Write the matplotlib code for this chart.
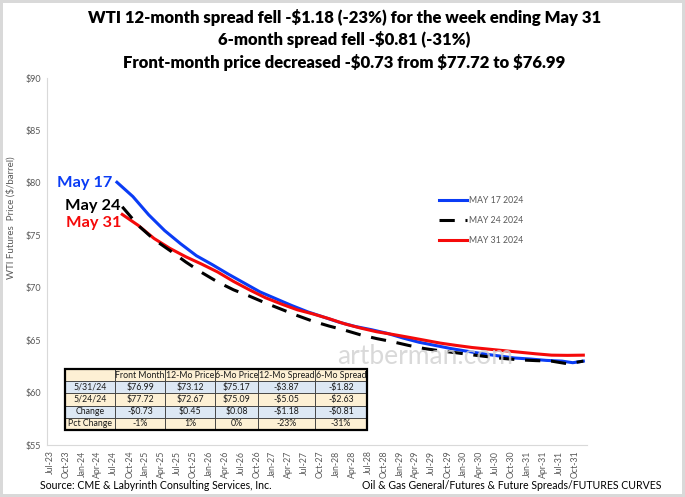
import matplotlib.pyplot as plt
from matplotlib.patches import Rectangle

plt.rcParams['font.family'] = ['Lato', 'DejaVu Sans']

# month index: Jul-23 = 0
tick_labels = ['Jul-23', 'Oct-23', 'Jan-24', 'Apr-24', 'Jul-24', 'Oct-24', 'Jan-25', 'Apr-25',
               'Jul-25', 'Oct-25', 'Jan-26', 'Apr-26', 'Jul-26', 'Oct-26', 'Jan-27', 'Apr-27',
               'Jul-27', 'Oct-27', 'Jan-28', 'Apr-28', 'Jul-28', 'Oct-28', 'Jan-29', 'Apr-29',
               'Jul-29', 'Oct-29', 'Jan-30', 'Apr-30', 'Jul-30', 'Oct-30', 'Jan-31', 'Apr-31',
               'Jul-31', 'Oct-31']

may17_months = [11, 14, 17, 20, 23, 26, 29, 32, 35, 38, 41, 44, 47, 50, 53, 56, 59, 62, 65, 68,
                71, 74, 77, 80, 83, 86, 89, 92, 95, 97, 99]
may17_price = [80.06, 78.70, 76.95, 75.45, 74.20, 73.05, 72.20, 71.30, 70.45, 69.60, 68.95,
               68.30, 67.70, 67.20, 66.70, 66.30, 66.00, 65.65, 65.20, 64.80, 64.50, 64.20,
               63.95, 63.70, 63.50, 63.30, 63.20, 63.07, 63.00, 62.85, 63.00]

may_months = [12, 15, 18, 21, 24, 27, 30, 33, 36, 39, 42, 45, 48, 51, 54, 57, 60, 63, 66, 69,
              72, 75, 78, 81, 84, 87, 90, 93, 96, 99]
may24_price = [77.72, 75.95, 74.60, 73.55, 72.45, 71.45, 70.55, 69.80, 69.20, 68.55, 67.95,
               67.35, 66.80, 66.35, 65.95, 65.50, 65.15, 64.85, 64.50, 64.20, 63.98, 63.80,
               63.60, 63.42, 63.25, 63.12, 63.05, 63.00, 62.75, 63.00]
may31_price = [76.99, 75.95, 74.70, 73.75, 72.95, 72.25, 71.50, 70.60, 69.80, 69.05, 68.45,
               67.90, 67.50, 67.05, 66.55, 66.15, 65.80, 65.55, 65.28, 65.00, 64.72, 64.50,
               64.30, 64.15, 64.00, 63.85, 63.70, 63.57, 63.55, 63.57]

table_cols = ['', 'Front Month', '12-Mo Price', '6-Mo Price', '12-Mo Spread', '6-Mo Spread']
table_rows = [
    ['5/31/24', '$76.99', '$73.12', '$75.17', '-$3.87', '-$1.82'],
    ['5/24/24', '$77.72', '$72.67', '$75.09', '-$5.05', '-$2.63'],
    ['Change', '-$0.73', '$0.45', '$0.08', '-$1.18', '-$0.81'],
    ['Pct Change', '-1%', '1%', '0%', '-23%', '-31%'],
]

fig = plt.figure(figsize=(6.85, 4.97), dpi=100)
fig.patch.set_edgecolor('#d9d9d9')
fig.patch.set_linewidth(3)
ax = fig.add_axes([0.0686, 0.1046, 0.7884, 0.7384])

# Excel places the labels ~1.6 months left of the contract months
shift = 1.6
ax.plot(may17_months, may17_price, color='#0a3cf5', lw=2.2, label='MAY 17 2024', zorder=3)
ax.plot(may_months, may24_price, color='black', lw=2.2, ls=(0, (5, 3.5)), label='MAY 24 2024', zorder=4)
ax.plot(may_months, may31_price, color='#f50a0a', lw=2.2, label='MAY 31 2024', zorder=3)

ax.set_ylim(55, 90)
ax.set_yticks(range(55, 91, 5))
ax.set_yticklabels([f'${v}' for v in range(55, 91, 5)], fontsize=6.5, color='#595959')
ax.set_xlim(-0.6 - shift, 101.3 - shift)
ax.set_xticks([3 * i - shift for i in range(len(tick_labels))])
ax.set_xticklabels(tick_labels, rotation=90, fontsize=6.3, color='#595959')
ax.tick_params(length=0, pad=4)
for s in ['top', 'right']:
    ax.spines[s].set_visible(False)
for s in ['left', 'bottom']:
    ax.spines[s].set_color('#d9d9d9')
    ax.spines[s].set_linewidth(0.8)
ax.set_ylabel('WTI Futures  Price ($/barrel)', fontsize=7, color='#595959')
ax.yaxis.set_label_coords(-0.058, 0.62)

ax.legend(loc='upper left', bbox_to_anchor=(0.712, 0.70), frameon=False, fontsize=6.3,
          labelcolor='#595959', handlelength=3.2, handletextpad=0.2, labelspacing=1.25)

# curve labels
ax.text(may17_months[0] - 0.8, may17_price[0] - 0.1, 'May 17', color='#0a3cf5', fontsize=11.8,
        fontweight='bold', ha='right', va='center')
ax.text(may_months[0] - 0.4, may24_price[0] + 0.1, 'May 24', color='black', fontsize=11.8,
        fontweight='bold', ha='right', va='center')
ax.text(may_months[0] - 0.2, may31_price[0] - 0.85, 'May 31', color='#f50a0a', fontsize=11.8,
        fontweight='bold', ha='right', va='center')

ax.text(0.70, 0.24, 'artberman.com', transform=ax.transAxes, fontsize=19, color='#d0d0d0',
        alpha=0.8, ha='center', va='center', zorder=5)

# data table
col_w = [50, 50, 50, 43, 57, 52]
row_h = 12.2
x0, y0 = 65, 369
for r in range(5):
    xx = x0
    cells = table_cols if r == 0 else table_rows[r - 1]
    bg = '#fdf0d4' if r % 2 == 0 else '#dde8f4'
    for c in range(6):
        fig.patches.append(Rectangle((xx / 685, 1 - (y0 + (r + 1) * row_h) / 497), col_w[c] / 685,
                                     row_h / 497, transform=fig.transFigure, facecolor=bg,
                                     edgecolor='#3a3a3a', lw=0.6, zorder=5))
        fig.text((xx + col_w[c] / 2) / 685, 1 - (y0 + (r + 0.5) * row_h) / 497, cells[c],
                 fontsize=6.3, ha='center', va='center', color='#1a1a1a', zorder=6)
        xx += col_w[c]
fig.patches.append(Rectangle((x0 / 685, 1 - (y0 + 5 * row_h) / 497), sum(col_w) / 685, 5 * row_h / 497,
                             transform=fig.transFigure, facecolor='none', edgecolor='black',
                             lw=1.6, zorder=7))

fig.text(0.503, 0.965, 'WTI 12-month spread fell -$1.18 (-23%) for the week ending May 31',
         fontsize=12, fontweight='heavy', ha='center', va='center')
fig.text(0.503, 0.92, '6-month spread fell -$0.81 (-31%)',
         fontsize=12, fontweight='heavy', ha='center', va='center')
fig.text(0.503, 0.875, 'Front-month price decreased -$0.73 from $77.72 to $76.99',
         fontsize=12, fontweight='heavy', ha='center', va='center')

fig.text(0.058, 0.012, 'Source: CME & Labyrinth Consulting Services, Inc.', fontsize=7.6, va='bottom')
fig.text(0.965, 0.012, 'Oil & Gas General/Futures & Future Spreads/FUTURES CURVES', fontsize=7.6,
         va='bottom', ha='right')

fig.savefig('out.png', dpi=100)
